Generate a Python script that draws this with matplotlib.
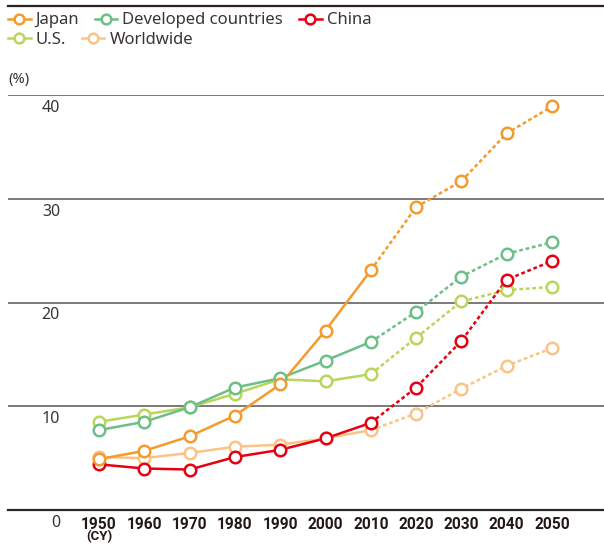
"""
Share of population aged 65+ (%), 1950-2050, with projections from 2010.
"""

import matplotlib
matplotlib.use("Agg")
import matplotlib.pyplot as plt
from matplotlib.lines import Line2D

plt.rcParams["font.family"] = ["Noto Sans", "DejaVu Sans"]

# ─── Data ──────────────────────────────────────────────────────────────────────

YEARS = [1950, 1960, 1970, 1980, 1990, 2000, 2010, 2020, 2030, 2040, 2050]
LAST_ACTUAL = 2010  # solid up to here, dotted (projection) after

JAPAN     = [4.9, 5.7, 7.1, 9.1, 12.1, 17.3, 23.1, 29.2, 31.7, 36.3, 38.9]
DEVELOPED = [7.7, 8.5, 9.9, 11.8, 12.7, 14.4, 16.2, 19.1, 22.5, 24.7, 25.8]
CHINA     = [4.4, 4.0, 3.9, 5.1, 5.8, 6.9, 8.4, 11.8, 16.3, 22.2, 24.0]
US        = [8.5, 9.2, 9.9, 11.2, 12.6, 12.4, 13.1, 16.6, 20.1, 21.2, 21.5]
WORLDWIDE = [5.1, 5.0, 5.5, 6.1, 6.3, 6.9, 7.7, 9.3, 11.7, 13.9, 15.6]

Y_TICKS = [0, 10, 20, 30, 40]

# drawing order: first is at the bottom
SERIES = [
    ("Worldwide",           WORLDWIDE, "#fbc486"),
    ("U.S.",                US,        "#b8d65c"),
    ("Developed countries", DEVELOPED, "#6dbf87"),
    ("China",               CHINA,     "#e60012"),
    ("Japan",               JAPAN,     "#f39b2d"),
]

TEXT_COLOR = "#3a3434"
BOLD_FONT = ["Roboto", "Lato", "DejaVu Sans"]
LW, MS, MEW = 1.8, 8.3, 1.8
DOTTED = (0, (1.5, 1.1))


# ─── Figure ────────────────────────────────────────────────────────────────────

W, H = 604, 544
fig = plt.figure(figsize=(W / 100, H / 100), dpi=100)

# axes: 0 at y=510 px, 40 at y=95 px; full width from x=8 px
ax = fig.add_axes([8 / W, (H - 510) / H, 596 / W, 415 / H])
px_per_year = (552 - 99) / 100
ax.set_xlim(1950 - 91 / px_per_year, 2050 + 52 / px_per_year)
ax.set_ylim(0, 40)

cut = YEARS.index(LAST_ACTUAL)
handles = {}
for name, vals, color in SERIES:
    ax.plot(YEARS[:cut + 1], vals[:cut + 1], color=color, lw=LW,
            solid_capstyle="butt", zorder=3)
    ax.plot(YEARS[cut:], vals[cut:], color=color, lw=LW,
            linestyle=DOTTED, zorder=3)
    ax.plot(YEARS, vals, linestyle="none", marker="o", ms=MS, mew=MEW,
            mfc="white", mec=color, zorder=4, clip_on=False)
    handles[name] = Line2D([], [], color=color, lw=LW, marker="o",
                           ms=7, mew=MEW, mfc="white", mec=color)

# horizontal rules
for v in Y_TICKS[1:]:
    ax.axhline(v, color="#5a5555", lw=1.1, zorder=1)
for s in ["top", "right", "left"]:
    ax.spines[s].set_visible(False)
ax.spines["bottom"].set_color("#2d2626")
ax.spines["bottom"].set_linewidth(1.6)

# y labels sit just below each rule
ax.set_yticks([])
for v in Y_TICKS:
    ax.text((60 - 8) / 596, v - 1.25, str(v), transform=ax.get_yaxis_transform(),
            ha="right", va="center", fontsize=11.5, color=TEXT_COLOR)

ax.set_xticks(YEARS)
ax.set_xticklabels([str(y) for y in YEARS], fontsize=11.2, family=BOLD_FONT,
                   fontweight="bold", color="#231815")
ax.tick_params(axis="x", length=0, pad=5)

fig.text(99 / W, 1 - 537 / H, "(CY)", ha="center", va="center",
         fontsize=9.5, fontweight="bold", family=BOLD_FONT, color="#231815")
fig.text(8 / W, 1 - 80 / H, "(%)", ha="left", va="center",
         fontsize=10.5, color=TEXT_COLOR)

# top rule
fig.add_artist(Line2D([8 / W, 1.0], [1 - 5.5 / H, 1 - 5.5 / H],
                      color="#2b1f1f", lw=1.6, transform=fig.transFigure))

# legend, two flowing rows
rows = [["Japan", "Developed countries", "China"], ["U.S.", "Worldwide"]]
for i, row in enumerate(rows):
    leg = fig.legend([handles[n] for n in row], row, ncol=len(row),
                     loc="center left",
                     bbox_to_anchor=(8 / W, 1 - (20.5 + 19 * i) / H),
                     frameon=False, borderpad=0, borderaxespad=0,
                     handlelength=1.35, handletextpad=0.3,
                     columnspacing=0.95, fontsize=12)
    for t in leg.get_texts():
        t.set_color(TEXT_COLOR)

fig.savefig("out.png", dpi=100)
